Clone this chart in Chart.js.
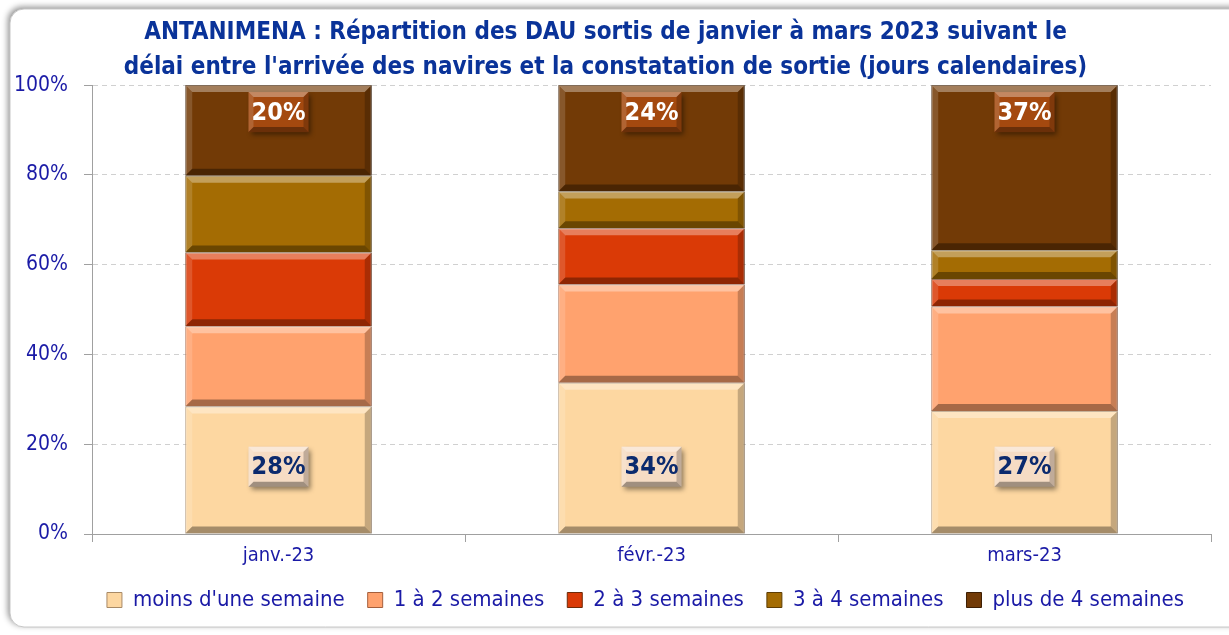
<!DOCTYPE html>
<html>
<head>
<meta charset="utf-8">
<script src="https://cdn.jsdelivr.net/npm/chart.js@4/dist/chart.umd.min.js"></script>
<style>
  html, body { margin: 0; padding: 0; background: #fff; }
  #wrap { width: 1229px; height: 635px; }
</style>
</head>
<body>
<div id="wrap"><canvas id="myChart" width="1229" height="635"></canvas></div>
<script>
const months = ["janv.-23", "févr.-23", "mars-23"];
const seriesNames = ["moins d'une semaine", "1 à 2 semaines", "2 à 3 semaines", "3 à 4 semaines", "plus de 4 semaines"];
const lessOneWeek = [28.4, 33.7, 27.4];
const oneToTwo = [17.9, 21.9, 23.3];
const twoToThree = [16.4, 12.5, 6.1];
const threeToFour = [17.1, 8.2, 6.4];
const moreThanFour = [20.2, 23.7, 36.8];
const yTicks = [0, 20, 40, 60, 80, 100];

const fills = ["#fdd7a1", "#ffa26e", "#da3a06", "#a46c03", "#723a06"];
const edges = ["#a88a66", "#a55f3c", "#6e2a08", "#5e3d04", "#3d1e03"];

const blue = "#1a1aa6";
const font = "'Liberation Sans Narrow', 'DejaVu Sans Condensed', sans-serif";

// rounded panel behind the chart
const framePlugin = {
  id: "frame",
  afterLayout(chart) {
    // legend sits a bit right of the canvas centre in the original
    chart.legend.left += 40;
    chart.legend.right += 40;
  },
  beforeDraw(chart) {
    const c = chart.ctx;
    c.save();
    c.fillStyle = "#fff";
    c.fillRect(0, 0, chart.width, chart.height);
    c.shadowColor = "rgba(0,0,0,0.45)";
    c.shadowBlur = 6;
    c.shadowOffsetX = -2;
    c.shadowOffsetY = -2;
    c.beginPath();
    c.roundRect(10, 9, chart.width + 20, chart.height - 17, 14);
    c.fillStyle = "#fff";
    c.fill();
    c.shadowColor = "transparent";
    c.strokeStyle = "#c8c8c8";
    c.lineWidth = 1;
    c.stroke();
    c.restore();
  }
};

function bevel(c, l, t, r, b, d) {
  d = Math.min(d, (b - t) / 2.5);
  c.fillStyle = "rgba(255,255,255,0.35)";
  c.beginPath(); c.moveTo(l, t); c.lineTo(r, t); c.lineTo(r - d, t + d); c.lineTo(l + d, t + d); c.fill();
  c.fillStyle = "rgba(255,255,255,0.15)";
  c.beginPath(); c.moveTo(l, t); c.lineTo(l + d, t + d); c.lineTo(l + d, b - d); c.lineTo(l, b); c.fill();
  c.fillStyle = "rgba(0,0,0,0.35)";
  c.beginPath(); c.moveTo(l, b); c.lineTo(r, b); c.lineTo(r - d, b - d); c.lineTo(l + d, b - d); c.fill();
  c.fillStyle = "rgba(0,0,0,0.22)";
  c.beginPath(); c.moveTo(r, t); c.lineTo(r, b); c.lineTo(r - d, b - d); c.lineTo(r - d, t + d); c.fill();
}

// bevel on each bar segment + value boxes on first and last series
const barPlugin = {
  id: "bars3d",
  afterDatasetsDraw(chart) {
    const c = chart.ctx;
    const yScale = chart.scales.y;
    c.save();
    chart.data.datasets.forEach((ds, i) => {
      const meta = chart.getDatasetMeta(i);
      if (meta.hidden) return;
      meta.data.forEach((bar, j) => {
        const p = bar.getProps(["x", "y", "base", "width"], true);
        const l = p.x - p.width / 2, r = p.x + p.width / 2;
        const t = Math.min(p.y, p.base), b = Math.max(p.y, p.base);
        bevel(c, l, t, r, b, 7);

        if (i === 0 || i === chart.data.datasets.length - 1) {
          const txt = Math.round(ds.data[j]) + "%";
          const bw = 60, bh = 40;
          const cy = i === 0 ? yScale.getPixelForValue(15) : t + 27;
          const bx = p.x - bw / 2, by = cy - bh / 2;
          c.save();
          c.shadowColor = "rgba(0,0,0,0.45)";
          c.shadowBlur = 5;
          c.shadowOffsetX = 2;
          c.shadowOffsetY = 3;
          c.fillStyle = i === 0 ? "#f6dcc4" : "#a4490f";
          c.fillRect(bx, by, bw, bh);
          c.restore();
          bevel(c, bx, by, bx + bw, by + bh, 5);
          c.fillStyle = i === 0 ? "#0b2a6e" : "#ffffff";
          c.font = "bold 25px " + font;
          c.textAlign = "center";
          c.textBaseline = "middle";
          c.fillText(txt, p.x, cy + 1);
        }
      });
    });
    c.restore();
  }
};

const ctx = document.getElementById("myChart").getContext("2d");

const myChart = new Chart(ctx, {
  type: "bar",
  data: {
    labels: months,
    datasets: [lessOneWeek, oneToTwo, twoToThree, threeToFour, moreThanFour].map((d, i) => ({
      label: seriesNames[i],
      data: d,
      backgroundColor: fills[i],
      borderColor: edges[i],
      borderWidth: 1,
      barPercentage: 0.5,
      categoryPercentage: 1,
    })),
  },
  options: {
    responsive: false,
    animation: false,
    layout: { padding: { left: 0, right: 18, top: 11, bottom: 14 } },
    plugins: {
      title: {
        display: true,
        text: [
          "ANTANIMENA : Répartition des DAU sortis de janvier à mars 2023 suivant le",
          "délai entre l'arrivée des navires et la constatation de sortie (jours calendaires)",
        ],
        color: "#0a3399",
        font: { family: font, size: 24, weight: "bold", lineHeight: 1.46 },
        padding: { top: 4, bottom: 0 },
      },
      legend: {
        position: "bottom",
        labels: {
          color: blue,
          font: { family: font, size: 22 },
          boxWidth: 15,
          boxHeight: 15,
          padding: 23,
          generateLabels(chart) {
            return chart.data.datasets.map((ds, i) => ({
              text: ds.label,
              fillStyle: ds.backgroundColor,
              strokeStyle: edges[i],
              fontColor: blue,
              lineWidth: 1,
              datasetIndex: i,
            }));
          },
        },
      },
      tooltip: { enabled: false },
    },
    scales: {
      x: {
        stacked: true,
        grid: { drawOnChartArea: false, tickLength: 8, color: "#a0a0a0", offset: true },
        border: { color: "#a0a0a0" },
        ticks: { color: blue, font: { family: font, size: 20 }, padding: 2 },
        afterFit(scale) {
          scale.height = scale.height - 4;
        },
      },
      y: {
        stacked: true,
        min: 0,
        max: 100,
        afterBuildTicks(scale) {
          scale.ticks = yTicks.map((v) => ({ value: v }));
        },
        afterFit(scale) {
          scale.width = 92;
        },
        grid: { color: "#d0d0d0", tickLength: 8, tickColor: "#a0a0a0", tickBorderDash: [] },
        border: { color: "#a0a0a0", dash: [5, 4] },
        ticks: {
          color: blue,
          font: { family: font, size: 21 },
          padding: 16,
          callback: (v) => v + "%",
        },
      },
    },
  },
  plugins: [framePlugin, barPlugin],
});
</script>
</body>
</html>
